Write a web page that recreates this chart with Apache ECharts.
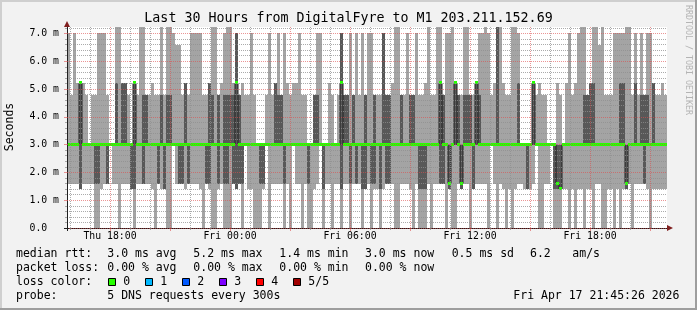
<!DOCTYPE html>
<html><head><meta charset="utf-8">
<script src="https://cdn.jsdelivr.net/npm/echarts@6/dist/echarts.min.js"></script>
<style>html,body{margin:0;padding:0;background:#f2f2f2}#c{width:697px;height:310px}</style>
</head><body><div id="c"></div><script>
// ---- data: 5 sorted DNS pings per 9-minute column (ms) ----
const ping1 = [
1.6,1.6,1.6,1.6,1.4,1.6,1.6,1.6,1.6,0, 0,1.4,1.6,1.6,3,1.6,1.6,0,1.6,1.6, 1.6,1.4,0,1.6,1.6,1.6,1.6,1.6,1.4,0, 1.6,1.4,1.4,0,0,3,1.6,1.6,1.6,1.4, 1.6,1.6,1.6,1.6,1.4,0,1.6,1.4,0,0,
1.4,1.6,0,0,0,1.6,1.4,1.6,0,3, 1.4,1.4,0,0,0,1.4,3,0,1.6,1.6, 1.6,1.6,0,1.6,0,3,1.6,1.6,0,1.6, 0,0,1.4,1.6,3,0,1.6,1.6,0,1.6, 1.6,0,1.6,1.6,0,1.6,1.6,1.6,0,1.4,
1.6,0,1.4,1.4,0,1.4,1.6,1.6,1.6,0, 0,1.6,1.6,1.6,1.4,0,1.6,0,0,0, 1.6,0,1.6,1.6,1.6,1.6,0,1.4,0,0, 1.6,1.4,1.6,1.6,0,1.4,1.6,1.6,1.6,1.6, 0,3,1.6,0,1.6,1.4,0,1.4,0,1.4,
1.6,1.6,1.4,1.4,1.4,1.6,3,0,0,1.6, 1.6,3,0,0,0,1.4,1.4,0,1.4,0, 1.4,1.4,0,1.4,1.4,0,1.6,1.6,0,0, 1.4,1.4,0,1.4,0,1.4,1.4,1.6,0,1.6, 1.6,1.6,1.6,1.4,0,1.4,1.4,1.4,1.4,1.4
];
const ping2 = [
3,3,3,3,1.4,3,3,3,3,1.6, 1.6,3,3,1.6,3,3,3,3,3,3, 3,1.4,1.4,3,3,1.6,3,3,3,3, 1.6,3,1.4,3,3,3,3,1.6,1.6,3, 1.6,3,3,3,3,3,1.6,1.6,3,3,
1.6,3,1.6,1.6,3,1.6,1.4,1.6,1.6,3, 3,3,3,3,1.6,1.6,3,3,3,3, 3,3,1.6,3,3,3,3,3,3,3, 1.6,3,3,3,3,1.4,3,3,3,3, 3,1.4,3,3,1.6,3,1.6,3,1.4,1.4,
3,1.6,1.6,3,1.4,3,1.6,1.6,3,3, 3,3,3,3,3,3,3,1.4,1.4,1.4, 3,3,3,3,1.6,1.6,3,1.4,3,3, 3,1.4,3,3,3,1.4,3,3,3,3, 3,3,3,3,3,3,3,3,3,3,
3,3,3,1.4,3,3,3,3,3,3, 3,3,1.4,1.4,1.4,3,3,3,3,3, 3,3,3,3,3,3,3,3,3,3, 3,3,3,3,3,3,1.4,3,3,3, 3,3,1.6,3,3,3,3,3,3,3
];
const ping3 = [
3,3,3,3,5.2,3,3,3,3,3, 3,3,3,3,3,3,3,3,3,3, 3,3,5.2,3,3,3,3,3,3,3, 3,3,3,3,3,3,3,3,3,3, 3,3,3,3,3,3,3,3,3,3,
3,3,3,3,3,3,5.2,3,3,3, 3,3,3,3,3,3,3,3,3,3, 3,3,3,3,3,3,3,3,3,3, 3,3,3,3,3,3,3,3,3,3, 3,5.2,3,3,3,3,3,3,3,3,
3,3,3,3,3,3,3,3,3,3, 3,3,3,3,3,3,3,3,3,3, 3,3,3,3,5.2,3,3,1.6,3,5.2, 3,1.6,3,3,3,3,5.2,3,3,3, 3,3,3,3,3,3,3,3,3,3,
3,3,3,3,3,5.2,3,3,3,3, 3,3,3,1.6,1.4,3,3,3,3,3, 3,3,3,3,3,3,3,3,3,3, 3,3,3,3,3,3,1.6,3,3,3, 3,3,3,3,3,3,3,3,3,3
];
const ping4 = [
3,3,3,3,5.2,3,3,3,3,3, 3,3,3,3,3,3,5.2,3,5.2,5.2, 3,3,5.2,3,3,4.8,4.8,3,3,3, 3,4.8,3,4.8,4.8,3,3,3,3,5.2, 3,3,3,3,3,3,3,5.2,4.8,3,
4.8,3,4.8,4.8,4.8,4.8,7.0,4.8,3,3, 3,3,3,3,3,3,3,3,3,5.2, 4.8,4.8,3,3,3,3,3,3,3,3, 3,3,4.8,4.8,3,3,3,3,3,3, 3,7.0,4.8,4.8,3,4.8,3,3,3,4.8,
3,3,4.8,3,3,7.0,4.8,4.8,3,3, 3,4.8,3,3,4.8,4.8,3,3,3,3, 3,3,3,3,5.2,4.8,3,3,3,5.2, 4.8,3,4.8,4.8,4.8,3,5.2,4.8,3,3, 3,3,3,7.3,3,3,3,3,3,3,
5.2,3,3,3,3,5.2,3,3,3,3, 3,3,3,3,3,3,3,3,3,3, 3,3,4.8,4.8,5.2,5.2,3,3,3,3, 3,3,3,3,5.2,5.2,3,3,3,5.2, 3,4.8,4.8,4.8,3,5.2,3,3,3,3
];
const ping5 = [
7.0,4.8,7.0,5.2,5.2,5.2,4.8,3,4.8,4.8, 7.0,7.0,7.0,4.8,3,3,7.3,7.3,5.2,5.2, 4.8,3,5.2,4.8,7.3,7.3,4.8,4.8,5.2,4.8, 4.8,7.3,4.8,7.3,7.3,7.0,6.6,6.6,4.8,5.2, 4.8,7.0,7.0,7.0,7.0,4.8,4.8,5.2,7.3,7.3,
4.8,5.2,7.0,7.3,7.3,5.2,7.0,4.8,5.2,4.8, 4.8,7.0,4.8,3,3,3,4.8,7.0,4.8,5.2, 7.0,4.8,7.0,5.2,4.8,5.2,5.2,7.0,4.8,4.8, 3,3,4.8,7.0,7.0,3,3,5.2,4.8,3, 4.8,7.0,4.8,4.8,7.0,4.8,7.0,4.8,7.0,4.8,
7.0,7.0,4.8,4.8,4.8,7.0,4.8,4.8,5.2,7.3, 7.3,4.8,4.8,7.0,4.8,4.8,7.0,4.8,4.8,5.2, 7.3,4.8,4.8,7.3,7.3,4.8,7.0,7.0,7.3,5.2, 4.8,4.8,7.3,7.3,4.8,4.8,5.2,7.0,7.0,7.3, 7.0,4.8,5.2,7.3,7.3,5.2,4.8,4.8,7.3,7.3,
7.0,3,3,3,3,5.2,4.8,5.2,4.8,4.8, 3,3,3,5.2,4.8,3,5.2,7.0,4.8,5.2, 7.0,7.3,7.3,4.8,5.2,7.3,7.3,6.6,7.3,4.8, 4.8,4.8,7.0,7.0,7.0,7.0,7.3,7.3,4.8,7.0, 4.8,7.0,4.8,7.0,7.0,5.2,4.8,4.8,5.2,4.8
];
// time: hours since Thu 00:00
const startHour = 15.85;
const stepHour = 0.15;
const hourLines = [16,17,19,20,22,23,25,26,28,29,31,32,34,35,37,38,40,41,43,44];
const majorHourLines = [18,21,24,27,30,33,36,39,42,45];
const xTickHours = [18,24,30,36,42];
const xTickLabels = ['Thu 18:00','Fri 00:00','Fri 06:00','Fri 12:00','Fri 18:00'];
const yTicks = [0,1,2,3,4,5,6,7];
const yTickLabels = ['0.0\u00a0\u00a0','1.0 m','2.0 m','3.0 m','4.0 m','5.0 m','6.0 m','7.0 m'];
const titleText = 'Last 30 Hours from DigitalFyre to M1 203.211.152.69';
const rttLabel = 'median rtt:';
const rttStats = ['3.0 ms avg','5.2 ms max','1.4 ms min','3.0 ms now','0.5 ms sd'];
const amsValue = '6.2';
const amsUnit = 'am/s';
const lossLabel = 'packet loss:';
const lossStats = ['0.00 % avg','0.00 % max','0.00 % min','0.00 % now'];
const lossColorLabel = 'loss color:';
const lossNames = ['0','1','2','3','4','5/5'];
const lossColors = ['#26ff00','#00b8ff','#0059ff','#7e00ff','#ff0000','#a10000'];
const probeLabel = 'probe:';
const probeText = '5 DNS requests every 300s';
const stampText = 'Fri Apr 17 21:45:26 2026';

const N = ping1.length;
const endHour = startHour + N * stepHour;
const yMax = 7.23;
const yMinor = [];
for (let i = 1; i <= 36; i++) if (i % 5) yMinor.push(i / 5);

const FONT = '"DejaVu Sans Mono", monospace';
const GRID = 'rgba(143,143,143,0.75)';
const MGRID = 'rgba(222,79,79,0.6)';

const smokeData = ping1.map((v, k) => [startHour + k*stepHour, startHour + (k+1)*stepHour, ping1[k], ping2[k], ping3[k], ping4[k], ping5[k]]);
const medianLine = ping3.map((v, k) => [startHour + k*stepHour, v]);
medianLine.push([endHour, ping3[N-1]]);

const chart = echarts.init(document.getElementById('c'), null, {renderer: 'canvas'});

function rectBetween(api, x0, x1, lo, hi) {
  const a = api.coord([x0, lo]);
  const b = api.coord([x1, hi]);
  const xl = Math.round(a[0]), xr = Math.round(b[0]);
  const yt = Math.round(b[1]), yb = Math.round(a[1]);
  return {x: xl, y: yt, width: xr - xl, height: yb - yt};
}

const gText = (x, y, text, extra) => Object.assign({
  type: 'text', x: x, y: y, silent: true,
  style: Object.assign({text: text, font: '11.5px ' + FONT, fill: '#000', textAlign: 'left', textVerticalAlign: 'middle'}, (extra||{}))
});

const rowY = [254.3, 268.3, 282.3, 296.3];
const colX = [107.3, 193.3, 279.3, 365, 451.7];
const graphics = [];
graphics.push({type:'rect', shape:{x:0,y:0,width:697,height:2}, style:{fill:'#cfcfcf'}, silent:true});
graphics.push({type:'rect', shape:{x:0,y:0,width:2,height:310}, style:{fill:'#cfcfcf'}, silent:true});
graphics.push({type:'rect', shape:{x:0,y:308,width:697,height:2}, style:{fill:'#9e9e9e'}, silent:true});
graphics.push({type:'rect', shape:{x:695,y:0,width:2,height:310}, style:{fill:'#9e9e9e'}, silent:true});
graphics.push(gText(348.5, 19, titleText, {font: '13.3px ' + FONT, textAlign: 'center'}));
graphics.push(gText(10.5, 127, 'Seconds', {textAlign: 'center'}));
graphics[graphics.length-1].rotation = Math.PI/2;
graphics.push(gText(688, 60, 'RRDTOOL / TOBI OETIKER', {font: '8.3px ' + FONT, textAlign: 'center', fill: '#b4b4b4'}));
graphics[graphics.length-1].rotation = -Math.PI/2;
graphics.push(gText(16, rowY[0], rttLabel));
rttStats.forEach((s, i) => graphics.push(gText(colX[i], rowY[0], s)));
graphics.push(gText(530, rowY[0], amsValue));
graphics.push(gText(572.3, rowY[0], amsUnit));
graphics.push(gText(16, rowY[1], lossLabel));
lossStats.forEach((s, i) => graphics.push(gText(colX[i], rowY[1], s)));
graphics.push(gText(16, rowY[2], lossColorLabel));
const boxX = [108.5, 145.5, 182.5, 219.5, 256.5, 293.5];
lossNames.forEach((n, i) => {
  graphics.push({type:'rect', silent:true, shape:{x: boxX[i], y: 278.5, width: 7, height: 7}, style:{fill: lossColors[i], stroke:'#000', lineWidth:1}});
  graphics.push(gText(boxX[i] + 14.8, rowY[2], n));
});
graphics.push(gText(16, rowY[3], probeLabel));
graphics.push(gText(107.3, rowY[3], probeText));
graphics.push(gText(513.3, rowY[3], stampText));
// axis arrows and short axis overhangs
graphics.push({type:'polygon', silent:true, z: 20, shape:{points:[[64,27],[70,27],[67,21]]}, style:{fill:'#801f1f'}});
graphics.push({type:'polygon', silent:true, z: 20, shape:{points:[[667,225],[667,231],[673,228]]}, style:{fill:'#801f1f'}});
graphics.push({type:'line', silent:true, z: 20, shape:{x1:67.5, y1:228, x2:67.5, y2:231}, style:{stroke:'#1f1f1f', lineWidth:1}});
graphics.push({type:'line', silent:true, z: 20, shape:{x1:64, y1:228.5, x2:67, y2:228.5}, style:{stroke:'#1f1f1f', lineWidth:1}});

const xLabelFmt = v => { const i = xTickHours.findIndex(h => Math.abs(h - v) < 1e-6); return i >= 0 ? xTickLabels[i] : ''; };
const yLabelFmt = v => { const i = yTicks.findIndex(h => Math.abs(h - v) < 1e-6); return i >= 0 ? yTickLabels[i] : ''; };

chart.setOption({
  backgroundColor: '#f2f2f2',
  animation: false,
  grid: {left: 67, top: 27, width: 600, height: 201, show: true, backgroundColor: '#ffffff', borderWidth: 0},
  xAxis: [
    {type:'value', min: startHour, max: endHour, position:'bottom', z: 10,
     axisLine:{show:true, onZero:false, lineStyle:{color:'#1f1f1f', width:1}},
     axisTick:{show:true, customValues: hourLines, length: 2, lineStyle:{color: GRID}},
     axisLabel:{show:false},
     splitLine:{show:true, lineStyle:{color: GRID, width:1, type:[1,1]}}},
    {type:'value', min: startHour, max: endHour, position:'bottom', z: 11,
     axisLine:{show:false},
     axisTick:{show:true, customValues: majorHourLines, length: 3, lineStyle:{color: MGRID}},
     axisLabel:{show:true, customValues: xTickHours, formatter: xLabelFmt, fontFamily: FONT, fontSize: 9.8, color:'#000', margin: 3, hideOverlap: false},
     splitLine:{show:true, lineStyle:{color: MGRID, width:1, type:[1,1]}}}
  ],
  yAxis: [
    {type:'value', min: 0, max: yMax, position:'left', z: 10,
     axisLine:{show:true, onZero:false, lineStyle:{color:'#1f1f1f', width:1}},
     axisTick:{show:true, customValues: yMinor, length: 2, lineStyle:{color: GRID}},
     axisLabel:{show:false},
     splitLine:{show:true, lineStyle:{color: GRID, width:1, type:[1,1]}}},
    {type:'value', min: 0, max: yMax, position:'left', z: 11,
     axisLine:{show:false},
     axisTick:{show:true, customValues: yTicks, length: 3, lineStyle:{color: MGRID}},
     axisLabel:{show:true, customValues: yTicks, formatter: yLabelFmt, fontFamily: FONT, fontSize: 9.8, color:'#000', margin: 8},
     splitLine:{show:true, lineStyle:{color: MGRID, width:1, type:[1,1]}}}
  ],
  series: [
    {type:'custom', name:'smoke', xAxisIndex:0, yAxisIndex:0, z:2, clip:true, silent:true,
     data: smokeData, encode:{x:[0,1], y:[2,6]},
     renderItem: (params, api) => {
       const x0 = api.value(0), x1 = api.value(1);
       return {type:'group', children:[
         {type:'rect', shape: rectBetween(api, x0, x1, api.value(2), api.value(6)), style:{fill:'#a4a4a4'}},
         {type:'rect', shape: rectBetween(api, x0, x1, api.value(3), api.value(5)), style:{fill:'#585858'}}
       ]};
     }},
    {type:'line', name:'median', xAxisIndex:0, yAxisIndex:0, z:3, step:'end', silent:true,
     data: medianLine, showSymbol:false, symbol:'none', lineStyle:{color:'#202020', width:1}},
    {type:'custom', name:'medianLoss0', xAxisIndex:0, yAxisIndex:0, z:4, clip:true, silent:true,
     data: smokeData, encode:{x:[0,1], y:4},
     renderItem: (params, api) => {
       const a = api.coord([api.value(0), api.value(4)]);
       const b = api.coord([api.value(1), api.value(4)]);
       return {type:'rect', shape:{x: Math.round(a[0]), y: Math.round(a[1]) - 2, width: Math.round(b[0]) - Math.round(a[0]), height: 3}, style:{fill: lossColors[0]}};
     }}
  ],
  graphic: graphics
});
</script></body></html>
